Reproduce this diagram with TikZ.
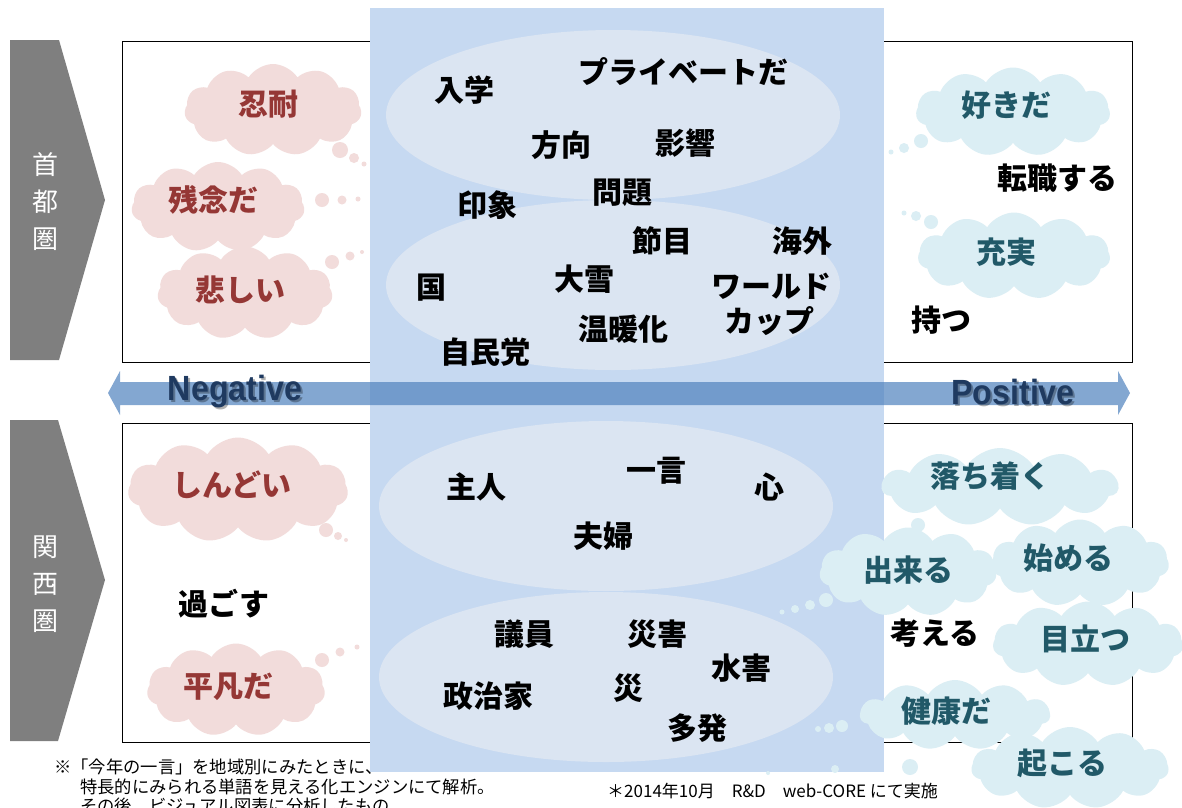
\documentclass[tikz,border=0pt]{standalone}
\usepackage{fontspec}
\setmainfont{Noto Sans CJK JP}
\newfontfamily\latinbold{Liberation Sans}
\usetikzlibrary{shapes.symbols}
\definecolor{bandfill}{HTML}{C6D9F1}
\definecolor{ellfill}{HTML}{DBE5F2}
\definecolor{pinkfill}{HTML}{F2DCDB}
\definecolor{pinktext}{HTML}{953735}
\definecolor{bluefill}{HTML}{DBEEF4}
\definecolor{bluetext}{HTML}{215968}
\definecolor{chevgray}{HTML}{7F7F7F}
\definecolor{arrowfill}{HTML}{4F81BD}
\definecolor{navytext}{HTML}{1F3A60}
\tikzset{
  puff/.style={cloud, cloud puffs=11, cloud puff arc=115, cloud ignores aspect, draw=none, inner sep=0pt},
  pinkpuff/.style={puff, fill=pinkfill},
  bluepuff/.style={puff, fill=bluefill},
  word/.style={font=\fontsize{30}{32}\selectfont\bfseries, text=black, inner sep=0pt},
  pinkword/.style={word, text=pinktext},
  blueword/.style={word, text=bluetext},
  region/.style={font=\fontsize{26}{37}\selectfont, text=white, align=center, inner sep=0pt},
  note/.style={font=\fontsize{17.3}{19}\selectfont, anchor=west, inner sep=0pt},
  axislabel/.style={font=\latinbold\fontsize{35}{36}\selectfont\bfseries, text=navytext, inner sep=0pt, xscale=0.92},
  framebox/.style={draw=black, line width=1pt, fill=white},
}
\begin{document}
\begin{tikzpicture}[x=1pt, y=-1pt]
\useasboundingbox (0,0) rectangle (1182,807);
% chevrons
\fill[chevgray] (10,40) -- (59,40) -- (105,200) -- (59,360) -- (10,360) -- cycle;
\fill[chevgray] (10,420) -- (58,420) -- (105,580) -- (58,741) -- (10,741) -- cycle;
\node[region] (tokyo) at (45,202) {首\\都\\圏};
\node[region] (kansai) at (45,584) {関\\西\\圏};
% frames
\draw[framebox] (122,41) rectangle (1132,362);
\draw[framebox] (122,423) rectangle (1132,742);
% notes
\node[note] (n1) at (54,767) {※「今年の一言」を地域別にみたときに、};
\node[note] (n2) at (80,787) {特長的にみられる単語を見える化エンジンにて解析。};
\node[note] (n3) at (80,806) {その後、ビジュアル図表に分析したもの};
\node[note, font=\fontsize{17}{19}\selectfont] (n4) at (607,791) {＊2014年10月　R\&D　web-CORE にて実施};
% central band
\fill[bandfill] (370,8) rectangle (884,772);
\fill[ellfill] (613,115) ellipse [x radius=227, y radius=85];
\fill[ellfill] (613,285) ellipse [x radius=227, y radius=85];
\fill[ellfill] (606,506) ellipse [x radius=227, y radius=85];
\fill[ellfill] (606,677) ellipse [x radius=227, y radius=85];
% axis arrow
\fill[arrowfill, opacity=0.7] (108,393) -- (120,371) -- (120,382) -- (1118,382) -- (1118,371) -- (1130,393) -- (1118,415) -- (1118,405) -- (120,405) -- (120,415) -- cycle;
\node[axislabel, text=black, opacity=0.3] at (237,394) {Negative};
\node[axislabel] (neg) at (235,392) {Negative};
\node[axislabel, text=black, opacity=0.3] at (1015,394) {Positive};
\node[axislabel] (pos) at (1013,392) {Positive};
% central words top
\node[word] (w1) at (464,90) {入学};
\node[word] (w2) at (683,72) {プライベートだ};
\node[word] (w3) at (561,145) {方向};
\node[word] (w4) at (685,143) {影響};
\node[word] (w5) at (622,193) {問題};
\node[word] (w6) at (487,205) {印象};
\node[word] (w7) at (662,241) {節目};
\node[word] (w8) at (802,241) {海外};
\node[word] (w9) at (431,288) {国};
\node[word] (w10) at (584,279) {大雪};
\node[word] (w11) at (771,286) {ワールド};
\node[word] (w12) at (769,321) {カップ};
\node[word] (w13) at (623,329) {温暖化};
\node[word] (w14) at (485,352) {自民党};
% central words bottom
\node[word] (b1) at (476,487) {主人};
\node[word] (b2) at (656,471) {一言};
\node[word] (b3) at (769,487) {心};
\node[word] (b4) at (603,536) {夫婦};
\node[word] (b5) at (524,634) {議員};
\node[word] (b6) at (657,634) {災害};
\node[word] (b7) at (741,668) {水害};
\node[word] (b8) at (628,688) {災};
\node[word] (b9) at (488,696) {政治家};
\node[word] (b10) at (697,728) {多発};
% negative clouds (top)
\node[pinkpuff, minimum width=177pt, minimum height=92pt] (c1) at (273,110) {};
\node[pinkword] (t1) at (268,104) {忍耐};
\fill[pinkfill] (340,150) circle (8) (354,158) circle (5) (364,164) circle (2.5);
\node[pinkpuff, minimum width=173pt, minimum height=90pt] (c2) at (218,207) {};
\node[pinkword] (t2) at (213,200) {残念だ};
\fill[pinkfill] (322,200) circle (7) (342,200) circle (4.5) (358,199) circle (2.5);
\node[pinkpuff, minimum width=175pt, minimum height=93pt] (c3) at (245,293) {};
\node[pinkword] (t3) at (240,290) {悲しい};
\fill[pinkfill] (332,262) circle (7) (350,256) circle (4.5) (362,252) circle (2);
% negative clouds (bottom)
\node[pinkpuff, minimum width=220pt, minimum height=105pt] (c4) at (238,490) {};
\node[pinkword] (t4) at (232,485) {しんどい};
\fill[pinkfill] (326,530) circle (7) (338,536) circle (4) (346,540) circle (2);
\node[word] (t5) at (224,604) {過ごす};
\node[pinkpuff, minimum width=178pt, minimum height=93pt] (c6) at (236,690) {};
\node[pinkword] (t6) at (228,687) {平凡だ};
\fill[pinkfill] (322,660) circle (7) (340,652) circle (4.5) (357,647) circle (2.5);
% positive clouds (top)
\node[bluepuff, minimum width=194pt, minimum height=89pt] (p1) at (1013,112) {};
\node[blueword] (s1) at (1006,105) {好きだ};
\fill[bluefill] (921,141) circle (7) (904,148) circle (5) (891,152) circle (2.5);
\node[word] (s2) at (1057,178) {転職する};
\node[bluepuff, minimum width=192pt, minimum height=87pt] (p3) at (1014,256) {};
\node[blueword] (s3) at (1006,252) {充実};
\fill[bluefill] (931,222) circle (7) (916,216) circle (5) (904,213) circle (2.5);
\node[word] (s4) at (941,320) {持つ};
% positive clouds (bottom)
\node[bluepuff, minimum width=236pt, minimum height=78pt] (p5) at (1000,487) {};
\node[blueword] (s5) at (990,476) {落ち着く};
\fill[bluefill] (918,525) circle (7);
\node[bluepuff, minimum width=177pt, minimum height=89pt] (p6) at (908,572) {};
\node[blueword] (s6) at (908,570) {出来る};
\fill[bluefill] (826,600) circle (7) (810,605) circle (5) (795,609) circle (4) (782,612) circle (2.5);
\node[bluepuff, minimum width=178pt, minimum height=87pt] (p7) at (1080,563) {};
\node[blueword] (s7) at (1068,558) {始める};
\node[word] (s8) at (935,633) {考える};
\node[bluepuff, minimum width=190pt, minimum height=85pt] (p9) at (1088,644) {};
\node[blueword] (s9) at (1085,639) {目立つ};
\node[bluepuff, minimum width=190pt, minimum height=70pt] (p10) at (955,715) {};
\node[blueword] (s10) at (946,711) {健康だ};
\fill[bluefill] (842,726) circle (6) (829,728) circle (5) (818,729) circle (3);
\node[bluepuff, minimum width=197pt, minimum height=82pt] (p11) at (1070,768) {};
\node[blueword] (s11) at (1062,763) {起こる};
\fill[bluefill] (910,767) circle (8) (835,769) circle (4) (768,773) circle (2);
\end{tikzpicture}
\end{document}
